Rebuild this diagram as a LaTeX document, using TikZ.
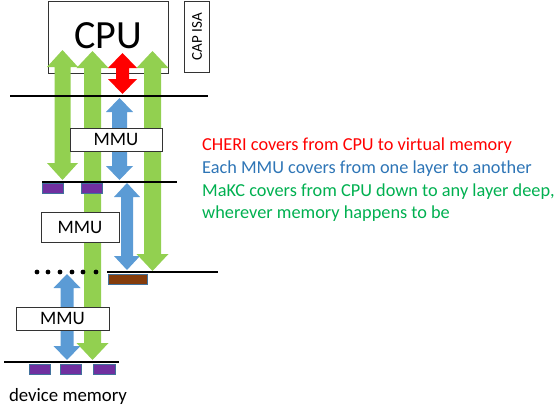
\documentclass[tikz,border=0pt]{standalone}
\usepackage{fontspec}
\setmainfont{Carlito}
\definecolor{agreen}{HTML}{92D050}
\definecolor{ablue}{HTML}{5B9BD5}
\definecolor{ared}{HTML}{FF0000}
\definecolor{tblue}{HTML}{2E75B6}
\definecolor{tgreen}{HTML}{00B050}
\definecolor{mpurple}{HTML}{7030A0}
\definecolor{mborder}{HTML}{41719C}
\definecolor{mbrown}{HTML}{843C0C}
% x, ytop, ybot, bodyhalf, headhalf, headlen, colour
\newcommand\blockarrow[7]{%
  \fill[#7] (#1,#2) -- (#1+#5,#2+#6) -- (#1+#4,#2+#6) -- (#1+#4,#3-#6) -- (#1+#5,#3-#6) -- (#1,#3)
    -- (#1-#5,#3-#6) -- (#1-#4,#3-#6) -- (#1-#4,#2+#6) -- (#1-#5,#2+#6) -- cycle;}
\tikzset{
  box/.style={draw=black!80, line width=0.8pt, fill=white},
  layer/.style={line width=2pt, black},
  cell/.style={draw=mborder, line width=0.8pt, fill=mpurple},
  note/.style={anchor=base west, font=\fontsize{18.3}{21}\selectfont, inner sep=0pt},
  mmu/.style={box, font=\fontsize{19}{21}\selectfont, inner sep=0pt},
}
\begin{document}
\begin{tikzpicture}[x=1pt,y=-1pt]
\useasboundingbox (0,0) rectangle (558,410);
% CPU and CAP ISA
\draw[box] (48,1) rectangle (168,73);
\node[anchor=base, font=\fontsize{40}{42}\selectfont, inner sep=0pt] (cpu) at (108.5,48) {CPU};
\draw[box] (184,1) rectangle (209,72);
\node[rotate=90, font=\fontsize{15}{17}\selectfont, inner sep=0pt] (capisa) at (197,36.5) {CAP ISA};
% arrows
\blockarrow{119.5}{98}{180}{7.5}{13.5}{14}{ablue}
\blockarrow{127}{183}{270}{6}{13}{14}{ablue}
\blockarrow{67}{274}{360}{6.5}{13.5}{14}{ablue}
\blockarrow{122.5}{53}{94}{6.5}{14.5}{15}{ared}
\blockarrow{62.5}{50}{180}{8}{15.5}{17}{agreen}
\blockarrow{92.5}{51}{360}{8.5}{16}{17}{agreen}
\blockarrow{152.5}{51}{271}{8.5}{16}{17}{agreen}
% layers
\draw[layer] (10,95.5) -- (208,95.5);
\draw[layer] (42,181.5) -- (177,181.5);
\draw[layer] (107,272) -- (218,272);
\draw[layer] (4,362) -- (119,362);
% dots
\foreach \dx in {37,48,60,72,83,96} \fill (\dx,272) circle (2.4);
% memory cells
\draw[cell] (42,183) rectangle (63,193);
\draw[cell] (81,183) rectangle (102,193);
\draw[fill=mbrown, draw=mborder, line width=0.8pt] (108,274) rectangle (147,284);
\draw[cell] (29,364) rectangle (50,374);
\draw[cell] (60,364) rectangle (81,374);
\draw[cell] (93,364) rectangle (115,374);
% MMU boxes
\node[mmu, minimum width=92pt, minimum height=23pt] (mmu1) at (116,139.5) {MMU};
\node[mmu, minimum width=78pt, minimum height=30pt] (mmu2) at (80,227) {MMU};
\node[mmu, minimum width=93pt, minimum height=23pt] (mmu3) at (62.5,318.5) {MMU};
% labels
\node[anchor=base, font=\fontsize{18.8}{21}\selectfont, inner sep=0pt] (dev) at (68,401) {device memory};
\node[note, text=ared] (t1) at (202,150) {CHERI covers from CPU to virtual memory};
\node[note, text=tblue] (t2) at (202,173) {Each MMU covers from one layer to another};
\node[note, text=tgreen] (t3) at (202,196) {MaKC covers from CPU down to any layer deep,};
\node[note, text=tgreen] (t4) at (202,218) {wherever memory happens to be};
\end{tikzpicture}
\end{document}
